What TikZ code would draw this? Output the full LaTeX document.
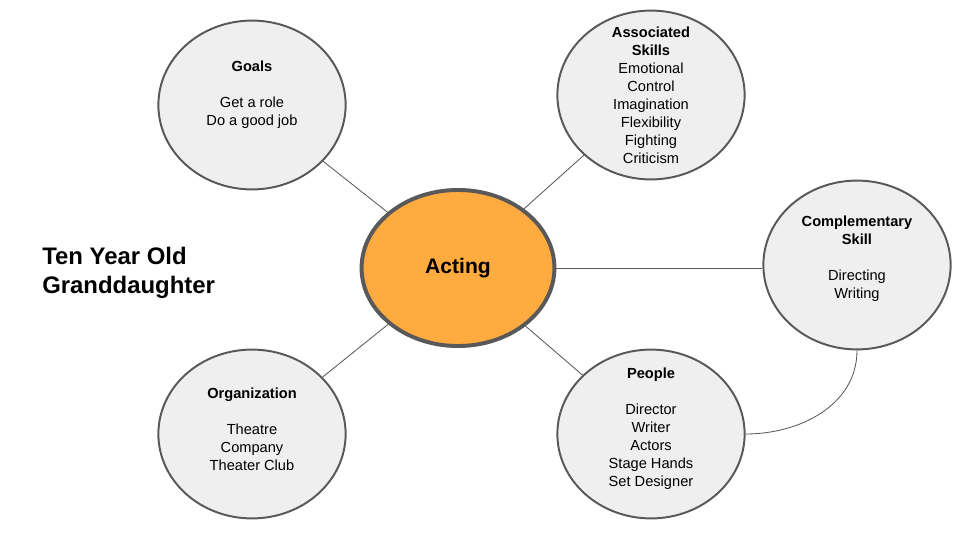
\documentclass[tikz,border=0pt]{standalone}
\usepackage{fontspec}
\setmainfont{Liberation Sans}
\usetikzlibrary{shapes.geometric}
\definecolor{bubblegray}{HTML}{EFEFEF}
\definecolor{edgegray}{HTML}{595959}
\definecolor{actorange}{HTML}{FFAB40}

\begin{document}
\begin{tikzpicture}[
  x=0.025cm,y=-0.025cm,
  bubble/.style={ellipse,draw=edgegray,line width=1.4pt,fill=bubblegray,
    minimum width=4.68cm,minimum height=4.22cm,inner sep=0pt},
  hub/.style={ellipse,draw=edgegray,line width=2.8pt,fill=actorange,
    minimum width=4.82cm,minimum height=3.9cm,inner sep=0pt,
    font=\fontsize{15}{18}\selectfont\bfseries},
  note/.style={align=center,inner sep=0pt,font=\fontsize{10.4}{12.8}\selectfont},
  link/.style={draw=edgegray,line width=0.6pt}
]
\useasboundingbox (0,0) rectangle (960,540);

% central topic
\node[hub] (acting) at (458,268) {Acting};

% surrounding bubbles
\node[bubble] (goals) at (252,105) {};
\node[bubble] (skills) at (651,95) {};
\node[bubble] (comp) at (857,265) {};
\node[bubble] (org) at (252,434) {};
\node[bubble] (people) at (651,434) {};

\node[note] (goalstxt) at (252,95)
  {\textbf{Goals}\\[12.8pt]Get a role\\Do a good job};
\node[note] (skillstxt) at (651,95)
  {\textbf{Associated}\\\textbf{Skills}\\Emotional\\Control\\Imagination\\Flexibility\\Fighting\\Criticism};
\node[note] (comptxt) at (857,259)
  {\textbf{Complementary}\\\textbf{Skill}\\[12.8pt]Directing\\Writing};
\node[note] (orgtxt) at (252,429)
  {\textbf{Organization}\\[12.8pt]Theatre\\Company\\Theater Club};
\node[note] (peopletxt) at (651,429)
  {\textbf{People}\\[12.8pt]Director\\Writer\\Actors\\Stage Hands\\Set Designer};

\node[anchor=west,align=left,inner sep=0pt,font=\fontsize{17}{20.6}\selectfont\bfseries]
  (title) at (42,273) {Ten Year Old\\Granddaughter};

\foreach \n in {goals,skills,org,people} {\path[link] (\n) -- (acting);}
\path[link] (acting.east) -- (acting.east -| comp.west);
\path[link] (comp.south) to[out=-90,in=0] (people.east);
\end{tikzpicture}
\end{document}
